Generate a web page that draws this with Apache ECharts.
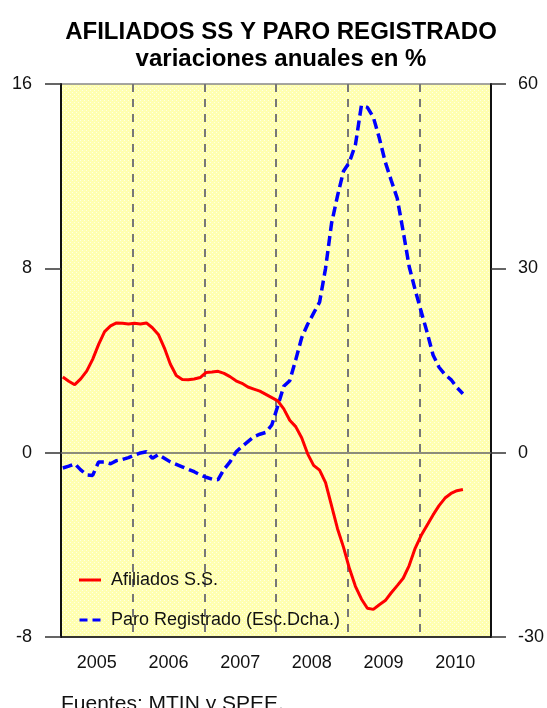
<!DOCTYPE html>
<html>
<head>
<meta charset="utf-8">
<script src="https://cdn.jsdelivr.net/npm/echarts@6/dist/echarts.min.js"></script>
<style>
  html, body { margin: 0; padding: 0; background: #ffffff; }
  #chart { width: 547px; height: 708px; }
</style>
</head>
<body>
<div id="chart"></div>
<script>
// Year bands on the horizontal axis
const years = ['2005', '2006', '2007', '2008', '2009', '2010'];

// Monthly year-on-year change (%), Jan 2005 onwards
const afiliados = [
  3.28, 3.1, 2.95, 3.2, 3.54, 4.05, 4.7, 5.25, 5.5, 5.63,
  5.62, 5.58, 5.62, 5.58, 5.63, 5.42, 5.13, 4.55, 3.85, 3.35,
  3.18, 3.16, 3.2, 3.26, 3.48, 3.5, 3.53, 3.44, 3.3, 3.12,
  3.01, 2.85, 2.76, 2.67, 2.53, 2.39, 2.25, 1.9, 1.41, 1.13,
  0.65, -0.05, -0.55, -0.76, -1.3, -2.3, -3.3, -4.1, -5.03, -5.8,
  -6.35, -6.75, -6.8, -6.6, -6.42, -6.08, -5.77, -5.45, -4.9, -4.15,
  -3.6, -3.15, -2.7, -2.3, -1.97, -1.77, -1.65, -1.6
];

const paro = [
  -2.5, -2.2, -1.8, -2.8, -3.6, -3.7, -1.5, -1.5, -1.8, -1.3,
  -1.1, -0.8, -0.4, -0.05, 0.15, -0.9, -0.3, -0.9, -1.5, -1.9,
  -2.3, -2.7, -3.1, -3.6, -4.0, -4.3, -4.4, -2.7, -1.5, 0.1,
  1.0, 1.8, 2.6, 3.0, 3.3, 4.5, 7.6, 10.8, 11.7, 15.1,
  18.7, 20.9, 22.7, 24.5, 30.0, 37.3, 41.8, 45.8, 47.3, 50.1,
  56.5, 56.2, 54.6, 51.2, 47.3, 44.3, 41.4, 36.0, 30.3, 26.5,
  23.0, 19.6, 15.9, 13.9, 12.7, 11.9, 10.6, 9.6
];

// Axis tick values
const leftTicks = { min: -8, max: 16, step: 8 };
const rightTicks = { min: -30, max: 60, step: 30 };

// Each monthly value sits slightly after the start of its month
const monthOffset = 0.3;
const toPoints = arr => arr.map((v, i) => [i + monthOffset, v]);

// Pale yellow stippled plot background
function stipple() {
  const c = document.createElement('canvas');
  c.width = 4; c.height = 4;
  const g = c.getContext('2d');
  g.fillStyle = '#ffffb0';
  g.fillRect(0, 0, 4, 4);
  g.fillStyle = '#ffffe6';
  g.fillRect(0, 0, 1, 1);
  g.fillRect(2, 2, 1, 1);
  return c;
}

const FONT = '"Liberation Sans", Arial, Helvetica, sans-serif';
const chart = echarts.init(document.getElementById('chart'), null, { renderer: 'canvas' });

// Legend keys: a solid bar and a pair of dashes
const solidKey = 'path://M0,0h22v3h-22z';
const dashedKey = 'path://M0,0h8v3h-8zM13,0h8v3h-8z';

chart.setOption({
  animation: false,
  backgroundColor: '#ffffff',
  textStyle: { fontFamily: FONT },
  graphic: [
    {
      type: 'text', z: 10,
      style: {
        x: 281, y: 32, text: 'AFILIADOS SS Y PARO REGISTRADO',
        align: 'center', verticalAlign: 'middle',
        font: 'bold 24px ' + FONT, fill: '#000'
      }
    },
    {
      type: 'text', z: 10,
      style: {
        x: 281, y: 59, text: 'variaciones anuales en %',
        align: 'center', verticalAlign: 'middle',
        font: 'bold 24px ' + FONT, fill: '#000'
      }
    },
    {
      type: 'text', z: 10,
      style: {
        x: 61, y: 704, text: 'Fuentes: MTIN y SPEE.',
        align: 'left', verticalAlign: 'middle',
        font: '21px ' + FONT, fill: '#111'
      }
    }
  ],
  grid: {
    left: 61, right: 54, top: 84, bottom: 71,
    show: true,
    backgroundColor: { image: stipple(), repeat: 'repeat' },
    borderColor: '#888',
    borderWidth: 1.5
  },
  legend: {
    orient: 'vertical',
    left: 79, top: 570,
    itemWidth: 22, itemHeight: 3, itemGap: 20,
    padding: 0,
    textStyle: { fontSize: 18, color: '#111', fontFamily: FONT, lineHeight: 20, padding: [0, 0, 0, 5] },
    data: [
      { name: 'Afiliados S.S.', icon: solidKey, itemStyle: { color: '#ff0000' } },
      { name: 'Paro Registrado (Esc.Dcha.)', icon: dashedKey, itemStyle: { color: '#0000ff' } }
    ]
  },
  xAxis: [
    {
      type: 'value', min: 0, max: 72, interval: 12,
      position: 'bottom',
      axisLine: { show: true, onZero: false, lineStyle: { color: '#111', width: 1.5 } },
      axisTick: { show: false },
      axisLabel: { show: false },
      splitLine: { show: true, lineStyle: { color: '#777', width: 2, type: [8, 7] } }
    },
    {
      type: 'category', data: years, boundaryGap: true,
      position: 'bottom',
      axisLine: { show: false },
      axisTick: { show: false },
      axisLabel: { margin: 17, fontSize: 18, color: '#111', fontFamily: FONT },
      splitLine: { show: false }
    }
  ],
  yAxis: [
    {
      type: 'value', min: leftTicks.min, max: leftTicks.max, interval: leftTicks.step,
      position: 'left',
      axisLine: { show: true, onZero: false, lineStyle: { color: '#111', width: 2 } },
      axisTick: { show: true, inside: false, length: 16, lineStyle: { color: '#333', width: 1.5 } },
      axisLabel: { margin: 29, fontSize: 18, color: '#111', fontFamily: FONT },
      splitLine: { show: false }
    },
    {
      type: 'value', min: rightTicks.min, max: rightTicks.max, interval: rightTicks.step,
      position: 'right',
      axisLine: { show: true, onZero: false, lineStyle: { color: '#111', width: 2 } },
      axisTick: { show: true, inside: false, length: 15, lineStyle: { color: '#333', width: 1.5 } },
      axisLabel: { margin: 27, fontSize: 18, color: '#111', fontFamily: FONT },
      splitLine: { show: false }
    }
  ],
  series: [
    {
      name: 'Afiliados S.S.',
      type: 'line',
      xAxisIndex: 0, yAxisIndex: 0,
      data: toPoints(afiliados),
      symbol: 'none',
      z: 5,
      lineStyle: { color: '#ff0000', width: 3 },
      itemStyle: { color: '#ff0000' },
      markLine: {
        silent: true,
        symbol: ['none', 'none'],
        label: { show: false },
        lineStyle: { color: '#666', width: 1.5, type: 'solid' },
        data: [{ yAxis: 0 }],
        z: 1
      }
    },
    {
      name: 'Paro Registrado (Esc.Dcha.)',
      type: 'line',
      xAxisIndex: 0, yAxisIndex: 1,
      data: toPoints(paro),
      symbol: 'none',
      z: 4,
      lineStyle: { color: '#0000ff', width: 3.5, type: [10, 5] },
      itemStyle: { color: '#0000ff' }
    }
  ]
});
</script>
</body>
</html>
